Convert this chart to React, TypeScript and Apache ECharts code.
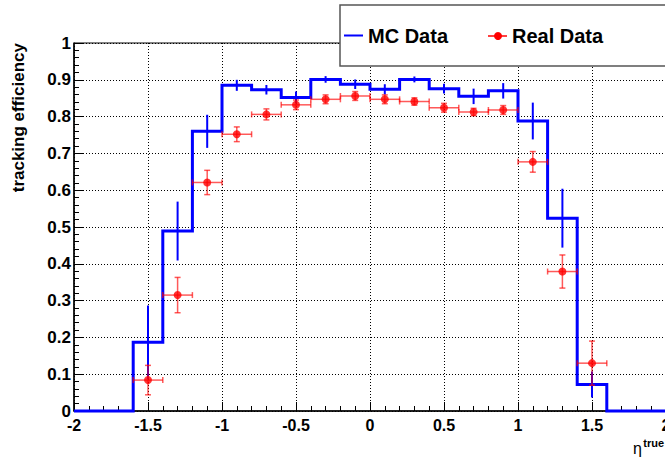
import React, { useEffect, useRef } from "react";
import * as echarts from "echarts";

// Histogram bin edges (eta^true) and MC efficiency per bin
const BIN_EDGES = [-2.0, -1.8, -1.6, -1.4, -1.2, -1.0, -0.8, -0.6, -0.4, -0.2, 0.0, 0.2, 0.4, 0.6, 0.8, 1.0, 1.2, 1.4, 1.6, 1.8, 2.0];
const BIN_CENTERS = [-1.9, -1.7, -1.5, -1.3, -1.1, -0.9, -0.7, -0.5, -0.3, -0.1, 0.1, 0.3, 0.5, 0.7, 0.9, 1.1, 1.3, 1.5, 1.7, 1.9];
const MC_VALUES = [0, 0, 0.187, 0.489, 0.76, 0.885, 0.873, 0.852, 0.901, 0.888, 0.874, 0.901, 0.876, 0.855, 0.87, 0.788, 0.524, 0.072, 0, 0];
const MC_ERRORS = [0, 0, 0.1, 0.08, 0.045, 0.015, 0.013, 0.016, 0.009, 0.013, 0.014, 0.008, 0.013, 0.021, 0.021, 0.05, 0.08, 0.035, 0, 0];

// Real data points
const REAL_ETA = [-1.5, -1.3, -1.1, -0.9, -0.7, -0.5, -0.3, -0.1, 0.1, 0.3, 0.5, 0.7, 0.9, 1.1, 1.3, 1.5];
const REAL_VALUES = [0.084, 0.315, 0.621, 0.752, 0.806, 0.832, 0.847, 0.856, 0.847, 0.841, 0.824, 0.8125, 0.818, 0.677, 0.379, 0.13];
const REAL_ERRORS = [0.04, 0.048, 0.033, 0.02, 0.015, 0.013, 0.012, 0.012, 0.012, 0.01, 0.012, 0.01, 0.012, 0.028, 0.045, 0.06];
const REAL_XERRORS = [0.1, 0.1, 0.1, 0.1, 0.1, 0.1, 0.1, 0.1, 0.1, 0.1, 0.1, 0.1, 0.1, 0.1, 0.1, 0.1];

const FONT = "'Liberation Sans', Arial, Helvetica, sans-serif";

export default function App() {
  const ref = useRef<HTMLDivElement>(null);

  useEffect(() => {
    if (!ref.current) return;
    const chart = echarts.init(ref.current, undefined, { renderer: "svg" });

    const stepData = BIN_EDGES.map((e, i) => [e, i < MC_VALUES.length ? MC_VALUES[i] : MC_VALUES[MC_VALUES.length - 1]]);
    const mcErrData = BIN_CENTERS.map((c, i) => [c, MC_VALUES[i], MC_ERRORS[i]]);
    const realErrData = REAL_ETA.map((c, i) => [c, REAL_VALUES[i], REAL_ERRORS[i], REAL_XERRORS[i]]);
    const realPts = REAL_ETA.map((c, i) => [c, REAL_VALUES[i]]);

    const option: any = {
      animation: false,
      backgroundColor: "#ffffff",
      textStyle: { fontFamily: FONT },
      grid: {
        left: 74,
        top: 43,
        width: 592,
        height: 368,
        show: true,
        borderColor: "#000",
        borderWidth: 1,
        backgroundColor: "transparent",
        containLabel: false,
        outerBoundsMode: "none",
      },
      xAxis: {
        type: "value",
        min: -2,
        max: 2,
        interval: 0.5,
        axisLine: { show: true, onZero: false, lineStyle: { color: "#000", width: 1.5 } },
        axisTick: { show: true, inside: true, length: 9, lineStyle: { color: "#000", width: 1 } },
        minorTick: { show: true, splitNumber: 5, length: 5, lineStyle: { color: "#000", width: 1 } },
        axisLabel: { color: "#000", fontWeight: "bold", fontSize: 16, fontFamily: FONT, margin: 6 },
        splitLine: { show: true, lineStyle: { color: "#000", type: [1, 2], width: 1 } },
      },
      yAxis: {
        type: "value",
        min: 0,
        max: 1,
        interval: 0.1,
        axisLine: { show: true, onZero: false, lineStyle: { color: "#000", width: 1.5 } },
        axisTick: { show: true, inside: true, length: 9, lineStyle: { color: "#000", width: 1 } },
        minorTick: { show: true, splitNumber: 5, length: 5, lineStyle: { color: "#000", width: 1 } },
        axisLabel: { color: "#000", fontWeight: "bold", fontSize: 17, fontFamily: FONT, margin: 3 },
        splitLine: { show: true, lineStyle: { color: "#000", type: [1, 2], width: 1 } },
      },
      series: [
        {
          name: "MC Data",
          type: "line",
          step: "end",
          data: stepData,
          symbol: "none",
          clip: false,
          lineStyle: { color: "#0000ff", width: 3, join: "miter" },
          z: 3,
        },
        {
          name: "MC errors",
          type: "custom",
          data: mcErrData,
          z: 3,
          renderItem: (params: any, api: any) => {
            const x = api.value(0);
            const y = api.value(1);
            const e = api.value(2);
            if (!(e > 0)) return { type: "group", children: [] };
            const top = api.coord([x, y + e]);
            const bot = api.coord([x, y - e]);
            return {
              type: "line",
              shape: { x1: top[0], y1: top[1], x2: bot[0], y2: bot[1] },
              style: { stroke: "#0000ff", lineWidth: 2 },
            };
          },
        },
        {
          name: "Real errors",
          type: "custom",
          data: realErrData,
          z: 4,
          renderItem: (params: any, api: any) => {
            const x = api.value(0);
            const y = api.value(1);
            const e = api.value(2);
            const ex = api.value(3);
            const c = api.coord([x, y]);
            const top = api.coord([x, y + e]);
            const bot = api.coord([x, y - e]);
            const lft = api.coord([x - ex, y]);
            const rgt = api.coord([x + ex, y]);
            const st = { stroke: "rgba(255,0,0,0.65)", lineWidth: 1.5 };
            const cap = 3;
            return {
              type: "group",
              children: [
                { type: "line", shape: { x1: c[0], y1: top[1], x2: c[0], y2: bot[1] }, style: st },
                { type: "line", shape: { x1: lft[0], y1: c[1], x2: rgt[0], y2: c[1] }, style: st },
                { type: "line", shape: { x1: c[0] - cap, y1: top[1], x2: c[0] + cap, y2: top[1] }, style: st },
                { type: "line", shape: { x1: c[0] - cap, y1: bot[1], x2: c[0] + cap, y2: bot[1] }, style: st },
                { type: "line", shape: { x1: lft[0], y1: c[1] - cap, x2: lft[0], y2: c[1] + cap }, style: st },
                { type: "line", shape: { x1: rgt[0], y1: c[1] - cap, x2: rgt[0], y2: c[1] + cap }, style: st },
              ],
            };
          },
        },
        {
          name: "Real Data",
          type: "scatter",
          data: realPts,
          symbol: "circle",
          symbolSize: 8,
          itemStyle: { color: "#ff0000" },
          z: 5,
        },
      ],
      graphic: [
        {
          type: "text",
          x: 18,
          y: 43,
          rotation: Math.PI / 2,
          style: {
            text: "tracking efficiency",
            font: `bold 17px ${FONT}`,
            fill: "#000",
            textAlign: "right",
            textVerticalAlign: "middle",
          },
          z: 10,
        },
        {
          type: "text",
          x: 642,
          y: 448,
          style: { text: "η", font: `16px ${FONT}`, fill: "#000", textAlign: "right", textVerticalAlign: "middle" },
          z: 10,
        },
        {
          type: "text",
          x: 664,
          y: 442.5,
          style: { text: "true", font: `bold 11px ${FONT}`, fill: "#000", textAlign: "right", textVerticalAlign: "middle" },
          z: 10,
        },
        {
          type: "group",
          z: 20,
          children: [
            {
              type: "rect",
              shape: { x: 340, y: 5, width: 340, height: 61 },
              style: { fill: "#ffffff", stroke: "#555555", lineWidth: 1.5 },
              z: 20,
            },
            {
              type: "line",
              shape: { x1: 344, y1: 35.5, x2: 363, y2: 35.5 },
              style: { stroke: "#0000ff", lineWidth: 2 },
              z: 21,
            },
            {
              type: "text",
              x: 368,
              y: 36,
              style: { text: "MC Data", font: `bold 20px ${FONT}`, fill: "#000", textVerticalAlign: "middle" },
              z: 21,
            },
            {
              type: "line",
              shape: { x1: 488, y1: 36, x2: 507, y2: 36 },
              style: { stroke: "#ff0000", lineWidth: 1.5 },
              z: 21,
            },
            {
              type: "circle",
              shape: { cx: 498, cy: 36, r: 4 },
              style: { fill: "#ff0000" },
              z: 22,
            },
            {
              type: "text",
              x: 512,
              y: 36,
              style: { text: "Real Data", font: `bold 20px ${FONT}`, fill: "#000", textVerticalAlign: "middle" },
              z: 21,
            },
          ],
        },
      ],
    };

    chart.setOption(option);
    return () => chart.dispose();
  }, []);

  return (
    <div
      ref={ref}
      style={{ position: "fixed", left: 0, top: 0, width: 665, height: 458, background: "#fff" }}
    />
  );
}
